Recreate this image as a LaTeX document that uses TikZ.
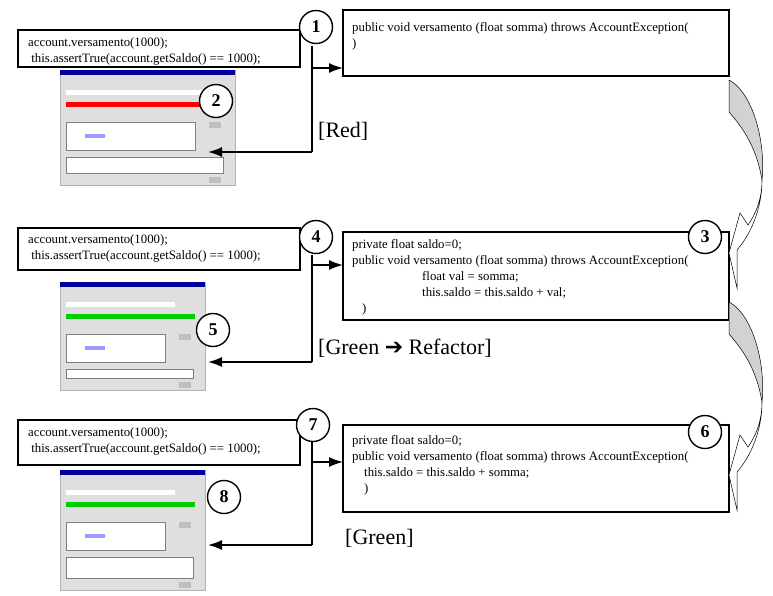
\documentclass[tikz,border=0pt]{standalone}
\usepackage{fontspec}
\setmainfont{Liberation Serif}
\usetikzlibrary{arrows.meta}
\begin{document}
\begin{tikzpicture}[x=1pt,y=-1pt,
  box/.style={draw,line width=1.4pt,fill=white},
  num/.style={circle,draw,line width=1.4pt,fill=white,minimum size=33pt,inner sep=0pt,font=\bfseries\fontsize{18}{18}\selectfont},
  code/.style={anchor=north west,align=left,font=\fontsize{12.8}{16}\selectfont,inner sep=0pt},
  conn/.style={line width=1.6pt,-{Latex[length=14pt,width=10pt]}},
  lbl/.style={anchor=west,font=\fontsize{22}{22}\selectfont,inner sep=0pt},
  curv/.style={draw=black,line width=0.5pt}]
\useasboundingbox (0,0) rectangle (773,595);
\newcommand{\junitwin}[5]{% x,y,w,h,barcolor
  \begin{scope}[shift={(#1,#2)}]
  \fill[gray!25] (0,0) rectangle (#3,#4);
  \draw[gray!60,line width=0.3pt] (0,0) rectangle (#3,#4);
  \fill[blue!60!black] (0,0) rectangle (#3,5);
  \fill[#5] (6,32) rectangle (#3-10,37);
  \fill[white] (6,20) rectangle (#3-30,25);
  \fill[white] (6,52) rectangle (#3-40,80);
  \draw[gray,line width=0.3pt] (6,52) rectangle (#3-40,80);
  \fill[white] (6,87) rectangle (#3-12,#4-12);
  \draw[gray,line width=0.3pt] (6,87) rectangle (#3-12,#4-12);
  \fill[blue!40] (25,64) rectangle (45,68);
  \fill[gray!50] (#3-26,52) rectangle (#3-14,58);
  \fill[gray!50] (#3-26,#4-8) rectangle (#3-14,#4-2);
  \end{scope}}
\junitwin{60}{70}{175}{115}{red}
\junitwin{60}{282}{145}{108}{green!80!black}
\junitwin{60}{470}{145}{120}{green!80!black}
% boxes
\draw[box] (18,30) rectangle (300,67);
\node[code] (a1) at (28,37) {account.versamento(1000);\\ \ this.assertTrue(account.getSaldo() == 1000);};
\draw[box] (343,10) rectangle (729,76);
\node[code] (b1) at (352,22) {public void versamento (float somma) throws AccountException(\\ )};
\draw[box] (18,228) rectangle (300,270);
\node[code] (a2) at (28,234) {account.versamento(1000);\\ \ this.assertTrue(account.getSaldo() == 1000);};
\draw[box] (343,232) rectangle (729,320);
\node[code] (b2) at (352,239) {private float saldo=0;\\public void versamento (float somma) throws AccountException(\\ \hspace{70pt}float val = somma;\\ \hspace{70pt}this.saldo = this.saldo + val;\\ \hspace{10pt})};
\draw[box] (18,420) rectangle (300,465);
\node[code] (a3) at (28,427) {account.versamento(1000);\\ \ this.assertTrue(account.getSaldo() == 1000);};
\draw[box] (343,425) rectangle (729,512);
\node[code] (b3) at (352,435) {private float saldo=0;\\public void versamento (float somma) throws AccountException(\\ \hspace{12pt}this.saldo = this.saldo + somma;\\ \hspace{12pt})};
% connectors
\coordinate (t1) at (312,46); \coordinate (m1) at (312,68); \coordinate (e1) at (343,68);
\coordinate (d1) at (312,152); \coordinate (s1) at (208,152);
\draw[line width=1.6pt] (t1) -- (d1);
\draw[conn] (m1) -- (e1);
\draw[conn] (d1) -- (s1);
\coordinate (t2) at (312,255); \coordinate (m2) at (312,265); \coordinate (e2) at (343,265);
\coordinate (d2) at (312,362); \coordinate (s2) at (208,362);
\draw[line width=1.6pt] (t2) -- (d2);
\draw[conn] (m2) -- (e2);
\draw[conn] (d2) -- (s2);
\coordinate (t3) at (312,442); \coordinate (m3) at (312,462); \coordinate (e3) at (343,462);
\coordinate (d3) at (312,545); \coordinate (s3) at (208,545);
\draw[line width=1.6pt] (t3) -- (d3);
\draw[conn] (m3) -- (e3);
\draw[conn] (d3) -- (s3);
% circles
\node[num] (n1) at (316,27) {1};
\node[num] (n2) at (216,101) {2};
\node[num] (n3) at (705,237) {3};
\node[num] (n4) at (316,237) {4};
\node[num] (n5) at (213,330) {5};
\node[num] (n6) at (705,432) {6};
\node[num] (n7) at (313,425) {7};
\node[num] (n8) at (224,497) {8};
% labels
\node[lbl] (l1) at (318,131) {[Red]};
\node[lbl] (l2) at (318,348) {[Green {\fontspec{DejaVu Sans}\symbol{"2794}} Refactor]};
\node[lbl] (l3) at (345,538) {[Green]};
% curved arrows
\foreach \yo in {0,222}{
\begin{scope}[shift={(0,\yo)}]
\filldraw[fill=gray!35,curv] (729,80) .. controls (752,92) and (766,140) .. (762,180)
  .. controls (757,150) and (745,130) .. (729,112) -- cycle;
\filldraw[fill=white,curv] (762,180) .. controls (762,200) and (755,215) .. (748,225)
  -- (740,213) -- (729,253) -- (737,288) -- (737,250)
  .. controls (750,235) and (762,210) .. (762,180) -- cycle;
\end{scope}}
\end{tikzpicture}
\end{document}
